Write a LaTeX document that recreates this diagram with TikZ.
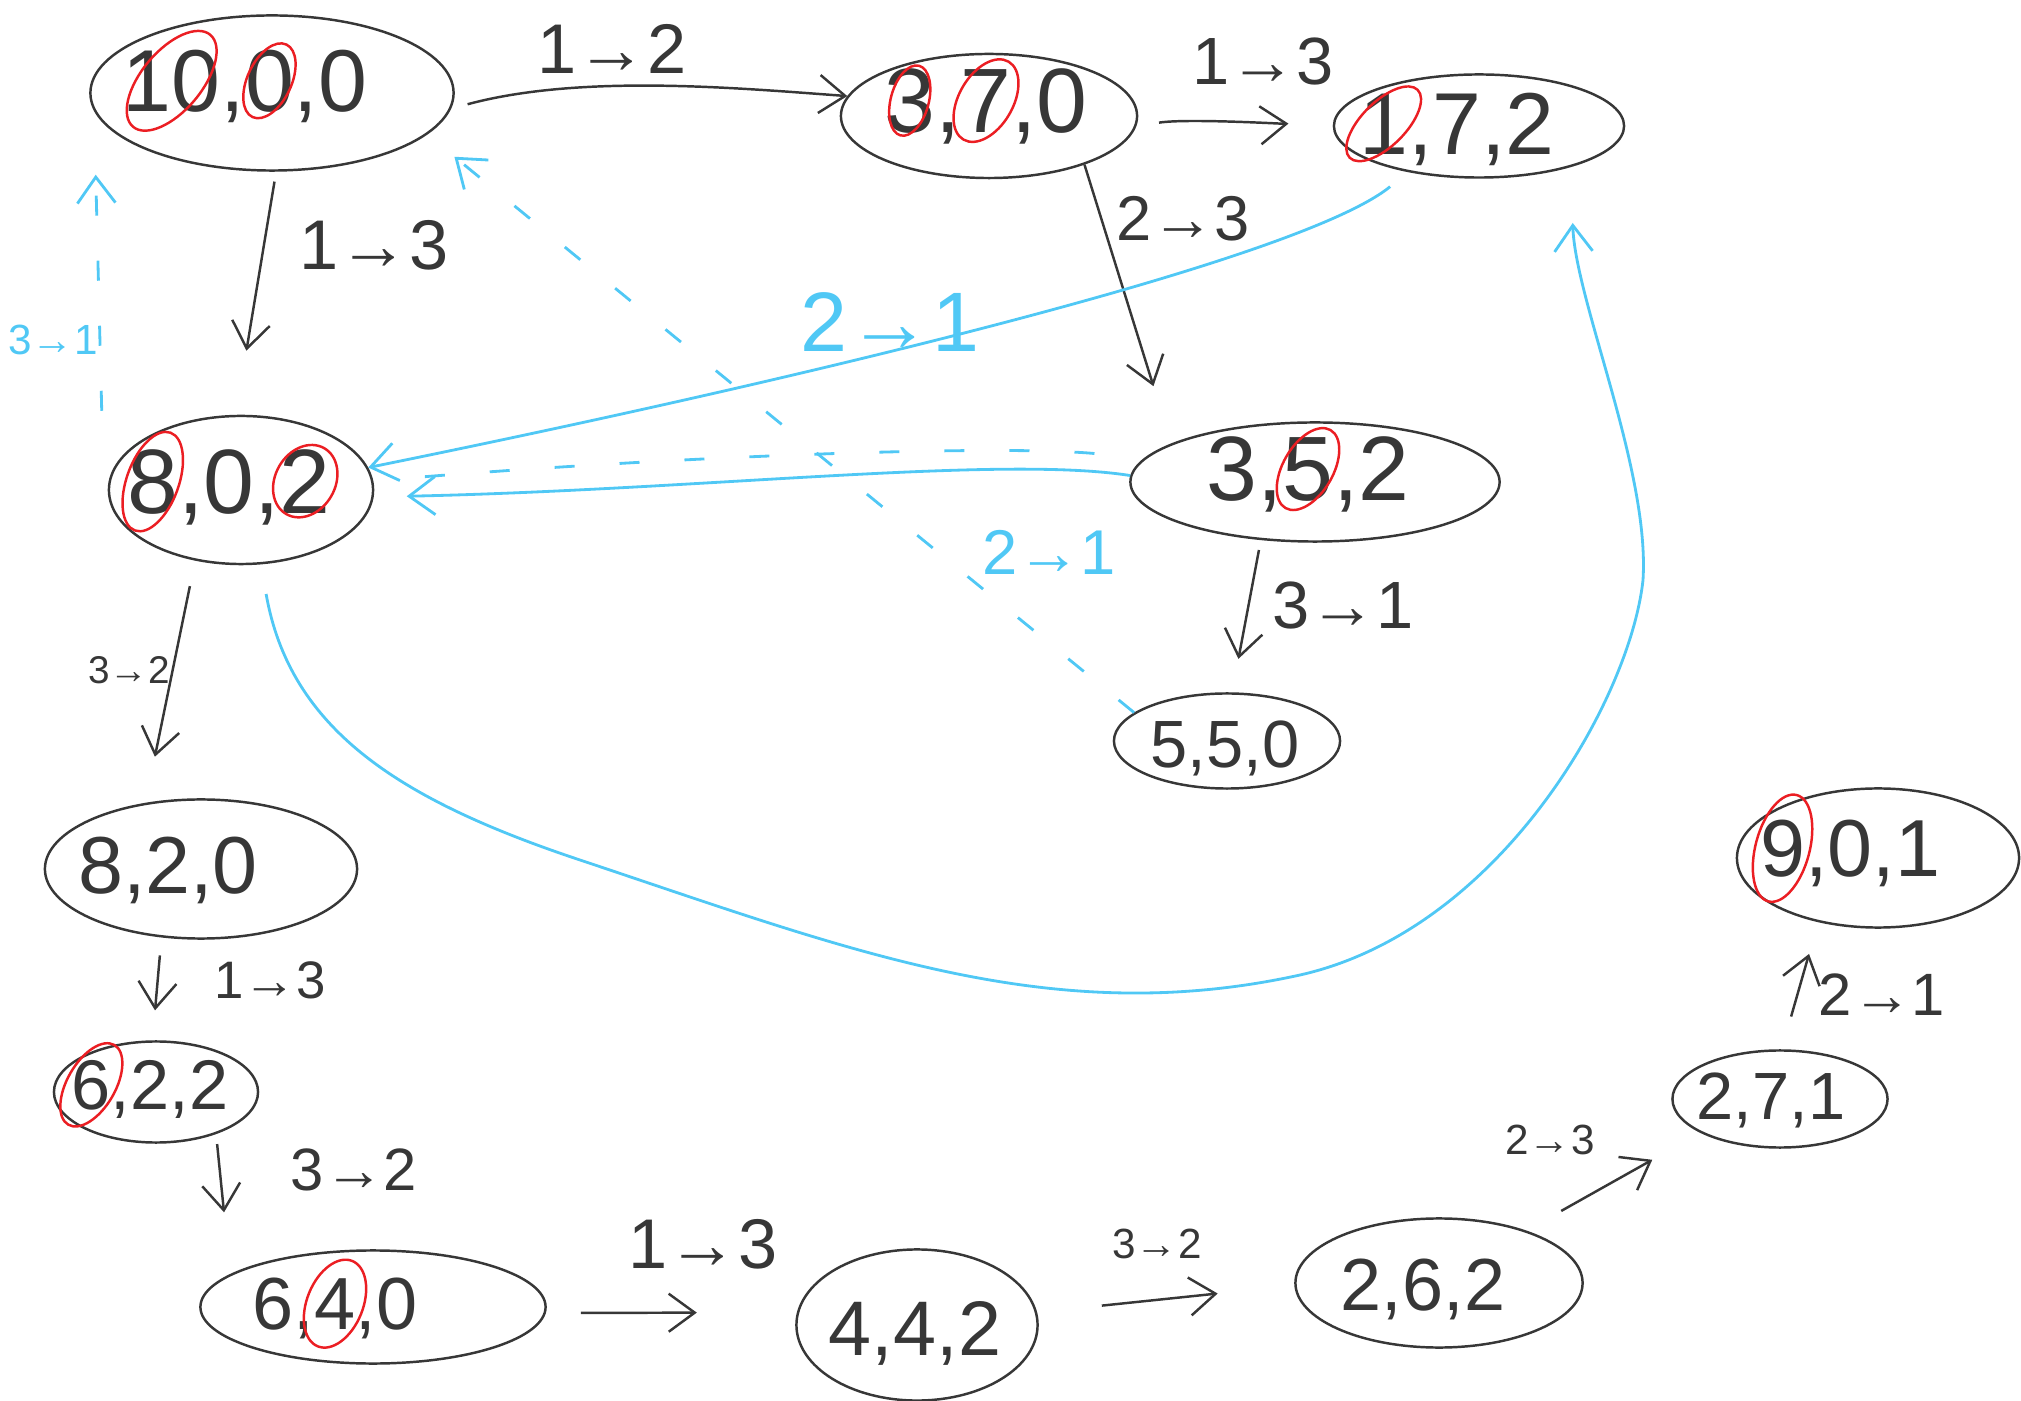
\documentclass[tikz,border=0pt]{standalone}
\usepackage{fontspec}
\setmainfont{Liberation Sans}
\usetikzlibrary{shapes.geometric,arrows.meta}
\definecolor{ink}{RGB}{55,55,55}
\definecolor{skyb}{RGB}{80,200,245}
\definecolor{redc}{RGB}{235,30,35}
\newcommand\fs[1]{\fontsize{#1}{#1}\selectfont}
% red ring round a digit: name, angle, x radius, y radius, text
\newcommand\rc[5]{\tikz[baseline=(#1.base)]{\node[inner sep=0pt,outer sep=0pt](#1){#5};\draw[draw=redc,line width=0.7pt,overlay,rotate around={#2:(#1.center)}] (#1.center) ellipse [x radius=#3cm, y radius=#4cm];}}
\begin{document}
\begin{tikzpicture}[x=0.01cm,y=-0.01cm,
  st/.style={ellipse, draw=ink, line width=0.7pt, inner sep=0pt},
  txt/.style={text=ink, inner sep=0pt},
  lab/.style={text=ink, inner sep=0pt},
  blab/.style={text=skyb, inner sep=0pt},
  blk/.style={draw=ink, line width=0.7pt, -{Straight Barb[length=0.26cm,width=0.38cm]}},
  bl/.style={draw=skyb, line width=0.8pt, -{Straight Barb[length=0.26cm,width=0.38cm]}},
  bldash/.style={bl, dash pattern=on 0.2cm off 0.45cm}]
\useasboundingbox (0,0) rectangle (2021,1401);

% state ellipses
\node[st,minimum width=3.63cm,minimum height=1.55cm] (A) at (272,93) {};
\node[st,minimum width=2.96cm,minimum height=1.24cm] (B) at (989,116) {};
\node[st,minimum width=2.90cm,minimum height=1.03cm] (C) at (1479,126) {};
\node[st,minimum width=2.64cm,minimum height=1.48cm] (D) at (241,490) {};
\node[st,minimum width=3.69cm,minimum height=1.19cm] (E) at (1315,482) {};
\node[st,minimum width=2.26cm,minimum height=0.95cm] (F) at (1227,741) {};
\node[st,minimum width=3.12cm,minimum height=1.39cm] (G) at (201,869) {};
\node[st,minimum width=2.04cm,minimum height=1.01cm] (H) at (156,1092) {};
\node[st,minimum width=3.45cm,minimum height=1.13cm] (I) at (373,1307) {};
\node[st,minimum width=2.41cm,minimum height=1.51cm] (J) at (917,1325) {};
\node[st,minimum width=2.87cm,minimum height=1.29cm] (K) at (1439,1283) {};
\node[st,minimum width=2.15cm,minimum height=0.97cm] (L) at (1780,1099) {};
\node[st,minimum width=2.82cm,minimum height=1.39cm] (M) at (1878,858) {};

% state texts
\node[txt,font=\fs{25}] (At) at (245,86) {\rc{a1}{-40}{0.30}{0.60}{10},\rc{a2}{-25}{0.22}{0.40}{0},0};
\node[txt,font=\fs{26}] (Bt) at (986,106) {\rc{b1}{-15}{0.19}{0.36}{3},\rc{b2}{-30}{0.27}{0.45}{7},0};
\node[txt,font=\fs{25}] (Ct) at (1457,129) {\rc{c1}{-45}{0.22}{0.48}{1},7,2};
\node[txt,font=\fs{26}] (Dt) at (229,487) {\rc{d1}{-20}{0.26}{0.52}{8},0,\rc{d2}{-30}{0.30}{0.38}{2}};
\node[txt,font=\fs{26}] (Et) at (1308,474) {3,\rc{e1}{-30}{0.25}{0.45}{5},2};
\node[txt,font=\fs{19}] (Ft) at (1225,748) {5,5,0};
\node[txt,font=\fs{23}] (Gt) at (168,870) {8,2,0};
\node[txt,font=\fs{20}] (Ht) at (150,1089) {\rc{h1}{-30}{0.24}{0.46}{6},2,2};
\node[txt,font=\fs{21}] (It) at (335,1308) {6,\rc{i1}{-22}{0.28}{0.46}{4},0};
\node[txt,font=\fs{22}] (Jt) at (915,1333) {4,4,2};
\node[txt,font=\fs{21}] (Kt) at (1423,1289) {2,6,2};
\node[txt,font=\fs{19}] (Lt) at (1771,1100) {2,7,1};
\node[txt,font=\fs{23}] (Mt) at (1850,853) {\rc{m1}{-15}{0.27}{0.55}{9},0,1};

% black transitions
\draw[blk, shorten <=0.17cm] (A.-5) .. controls +(130,-35) and +(-110,-8) .. (B.172);
\draw[blk, shorten <=0.23cm, shorten >=0.45cm] (B.-4) .. controls +(50,-8) and +(-50,3) .. (C.178);
\draw[blk, shorten <=0.1cm, shorten >=0.65cm] (A.-87) -- (D.94);
\draw[blk, shorten >=0.6cm] (B.-27) -- (E.165);
\draw[blk, shorten <=0.26cm, shorten >=0.47cm] (D.-123) -- (G.130);
\draw[blk, shorten <=0.1cm, shorten >=0.34cm] (E.-133) -- (F.84);
\draw[blk, shorten <=0.18cm, shorten >=0.3cm] (G.-120) -- (H.94);
\draw[blk, shorten <=0.1cm, shorten >=0.62cm] (H.-35) -- (I.167);
\draw[blk, shorten <=0.35cm, shorten >=1.0cm] (I.-2) -- (J.174);
\draw[blk, shorten <=0.65cm, shorten >=0.77cm] (J.6) -- (K.181);
\draw[blk, shorten <=0.4cm, shorten >=0.55cm] (K.31) -- (L.203);
\draw[blk, shorten <=0.34cm, shorten >=0.33cm] (L.88) -- (M.-133);

% black labels
\node[lab,font=\fs{20}] (l1) at (612,49) {1→2};
\node[lab,font=\fs{19}] (l2) at (1263,62) {1→3};
\node[lab,font=\fs{20}] (l3) at (374,245) {1→3};
\node[lab,font=\fs{18}] (l4) at (1183,219) {2→3};
\node[lab,font=\fs{11}] (l5) at (129,670) {3→2};
\node[lab,font=\fs{19}] (l6) at (1343,606) {3→1};
\node[lab,font=\fs{15}] (l7) at (270,980) {1→3};
\node[lab,font=\fs{17}] (l8) at (354,1170) {3→2};
\node[lab,font=\fs{20}] (l9) at (703,1244) {1→3};
\node[lab,font=\fs{12}] (l10) at (1157,1244) {3→2};
\node[lab,font=\fs{12}] (l11) at (1550,1140) {2→3};
\node[lab,font=\fs{17}] (l12) at (1882,995) {2→1};

% blue transitions
\draw[bl, shorten <=0.23cm] (C.-147) .. controls (1300,260) and (800,380) .. (D.10);
\draw[bl, shorten >=0.33cm] (E.178) .. controls (1000,455) and (700,490) .. (D.-3);
\draw[bldash, -, shorten <=0.5cm, shorten >=0.5cm] (E.172) .. controls (1000,445) and (700,455) .. (D.4);
\draw[bldash, shorten >=0.35cm] (F.163) -- (A.-15);
\draw[bldash] ([shift={(-45,-26)}]D.north west) -- ([shift={(-47,26)}]A.south west);
\draw[bl, shorten <=0.3cm, shorten >=0.56cm] (D.-75) .. controls (290,730) and (400,800) .. (580,860)
  .. controls (850,950) and (1050,1030) .. (1300,975)
  .. controls (1500,930) and (1630,700) .. (1643,580)
  .. controls (1650,470) and (1575,300) .. (C.-24);

% blue labels
\node[blab,font=\fs{24}] (bl1) at (890,322) {2→1};
\node[blab,font=\fs{18}] (bl2) at (1049,552) {2→1};
\node[blab,font=\fs{12}] (bl3) at (53,340) {3→1};
\end{tikzpicture}
\end{document}
